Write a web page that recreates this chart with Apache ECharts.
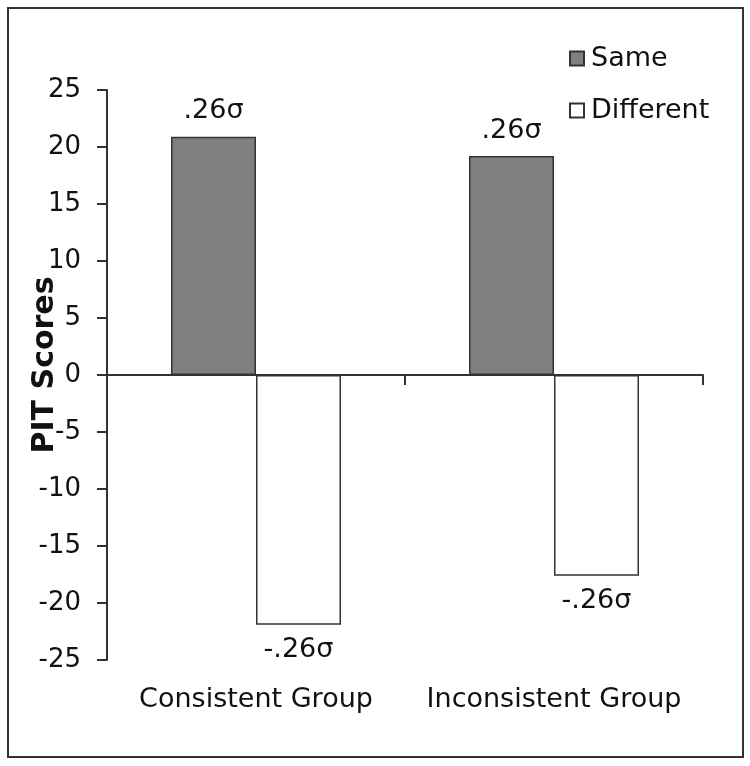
<!DOCTYPE html>
<html>
<head>
<meta charset="utf-8">
<script src="https://cdn.jsdelivr.net/npm/echarts@6/dist/echarts.min.js"></script>
<style>
html,body{margin:0;padding:0;background:#fff;}
#chart{width:750px;height:766px;}
</style>
</head>
<body>
<div id="chart"></div>
<script>
var categories = ['Consistent Group', 'Inconsistent Group'];
var sameValues = [20.9, 19.2];
var differentValues = [-21.9, -17.6];
var sameLabels = ['.26σ', '.26σ'];
var differentLabels = ['-.26σ', '-.26σ'];
var yTicks = {min: -25, max: 25, interval: 5};

var FONT = 'DejaVu Sans';
var TXT = '#111111';
var LINE = '#333333';

var chart = echarts.init(document.getElementById('chart'), null, {renderer: 'canvas'});
chart.setOption({
  backgroundColor: '#ffffff',
  animation: false,
  graphic: [{
    type: 'rect',
    shape: {x: 8, y: 8, width: 735, height: 749},
    style: {fill: 'none', stroke: '#333', lineWidth: 2},
    silent: true
  }],
  legend: {
    orient: 'vertical',
    left: 564,
    top: 40,
    itemWidth: 14,
    itemHeight: 14,
    itemGap: 25,
    icon: 'rect',
    textStyle: {fontFamily: FONT, fontSize: 27, color: TXT, padding: [0, 0, 0, 2]},
    data: ['Same', 'Different']
  },
  grid: {left: 107, right: 47, top: 90, bottom: 106, containLabel: false, outerBoundsMode: 'none'},
  xAxis: [{
    type: 'category',
    data: categories,
    position: 'bottom',
    axisLine: {show: true, onZero: true, lineStyle: {color: LINE, width: 2}},
    axisTick: {show: true, length: 10, lineStyle: {color: LINE, width: 2}},
    axisLabel: {show: false},
    splitLine: {show: false}
  }, {
    type: 'category',
    data: categories,
    position: 'bottom',
    axisLine: {show: false, onZero: false},
    axisTick: {show: false},
    axisLabel: {show: true, interval: 0, hideOverlap: false, margin: 26, fontFamily: FONT, fontSize: 27, color: TXT},
    splitLine: {show: false}
  }],
  yAxis: {
    type: 'value',
    min: yTicks.min,
    max: yTicks.max,
    interval: yTicks.interval,
    name: 'PIT Scores',
    nameLocation: 'middle',
    nameGap: 47,
    nameMoveOverlap: false,
    nameTextStyle: {fontFamily: FONT, fontSize: 30, fontWeight: 'bold', color: TXT, padding: [0, 0, 0, 20]},
    axisLine: {show: true, lineStyle: {color: LINE, width: 2}},
    axisTick: {show: true, inside: false, length: 10, lineStyle: {color: LINE, width: 2}},
    axisLabel: {margin: 26, fontFamily: FONT, fontSize: 26, color: TXT},
    splitLine: {show: false}
  },
  series: [{
    name: 'Same',
    type: 'bar',
    xAxisIndex: 0,
    data: sameValues.map(function (v, i) { return {value: v, label: {formatter: sameLabels[i]}}; }),
    barWidth: 85,
    barGap: '0%',
    itemStyle: {color: '#808080', borderColor: '#333', borderWidth: 1.5},
    label: {show: true, position: 'top', distance: 12, fontFamily: FONT, fontSize: 27, color: TXT}
  }, {
    name: 'Different',
    type: 'bar',
    xAxisIndex: 0,
    data: differentValues.map(function (v, i) { return {value: v, label: {formatter: differentLabels[i]}}; }),
    barWidth: 85,
    barGap: '0%',
    itemStyle: {color: '#ffffff', borderColor: '#333', borderWidth: 1.5},
    label: {show: true, position: 'bottom', distance: 12, fontFamily: FONT, fontSize: 27, color: TXT}
  }]
});
</script>
</body>
</html>
